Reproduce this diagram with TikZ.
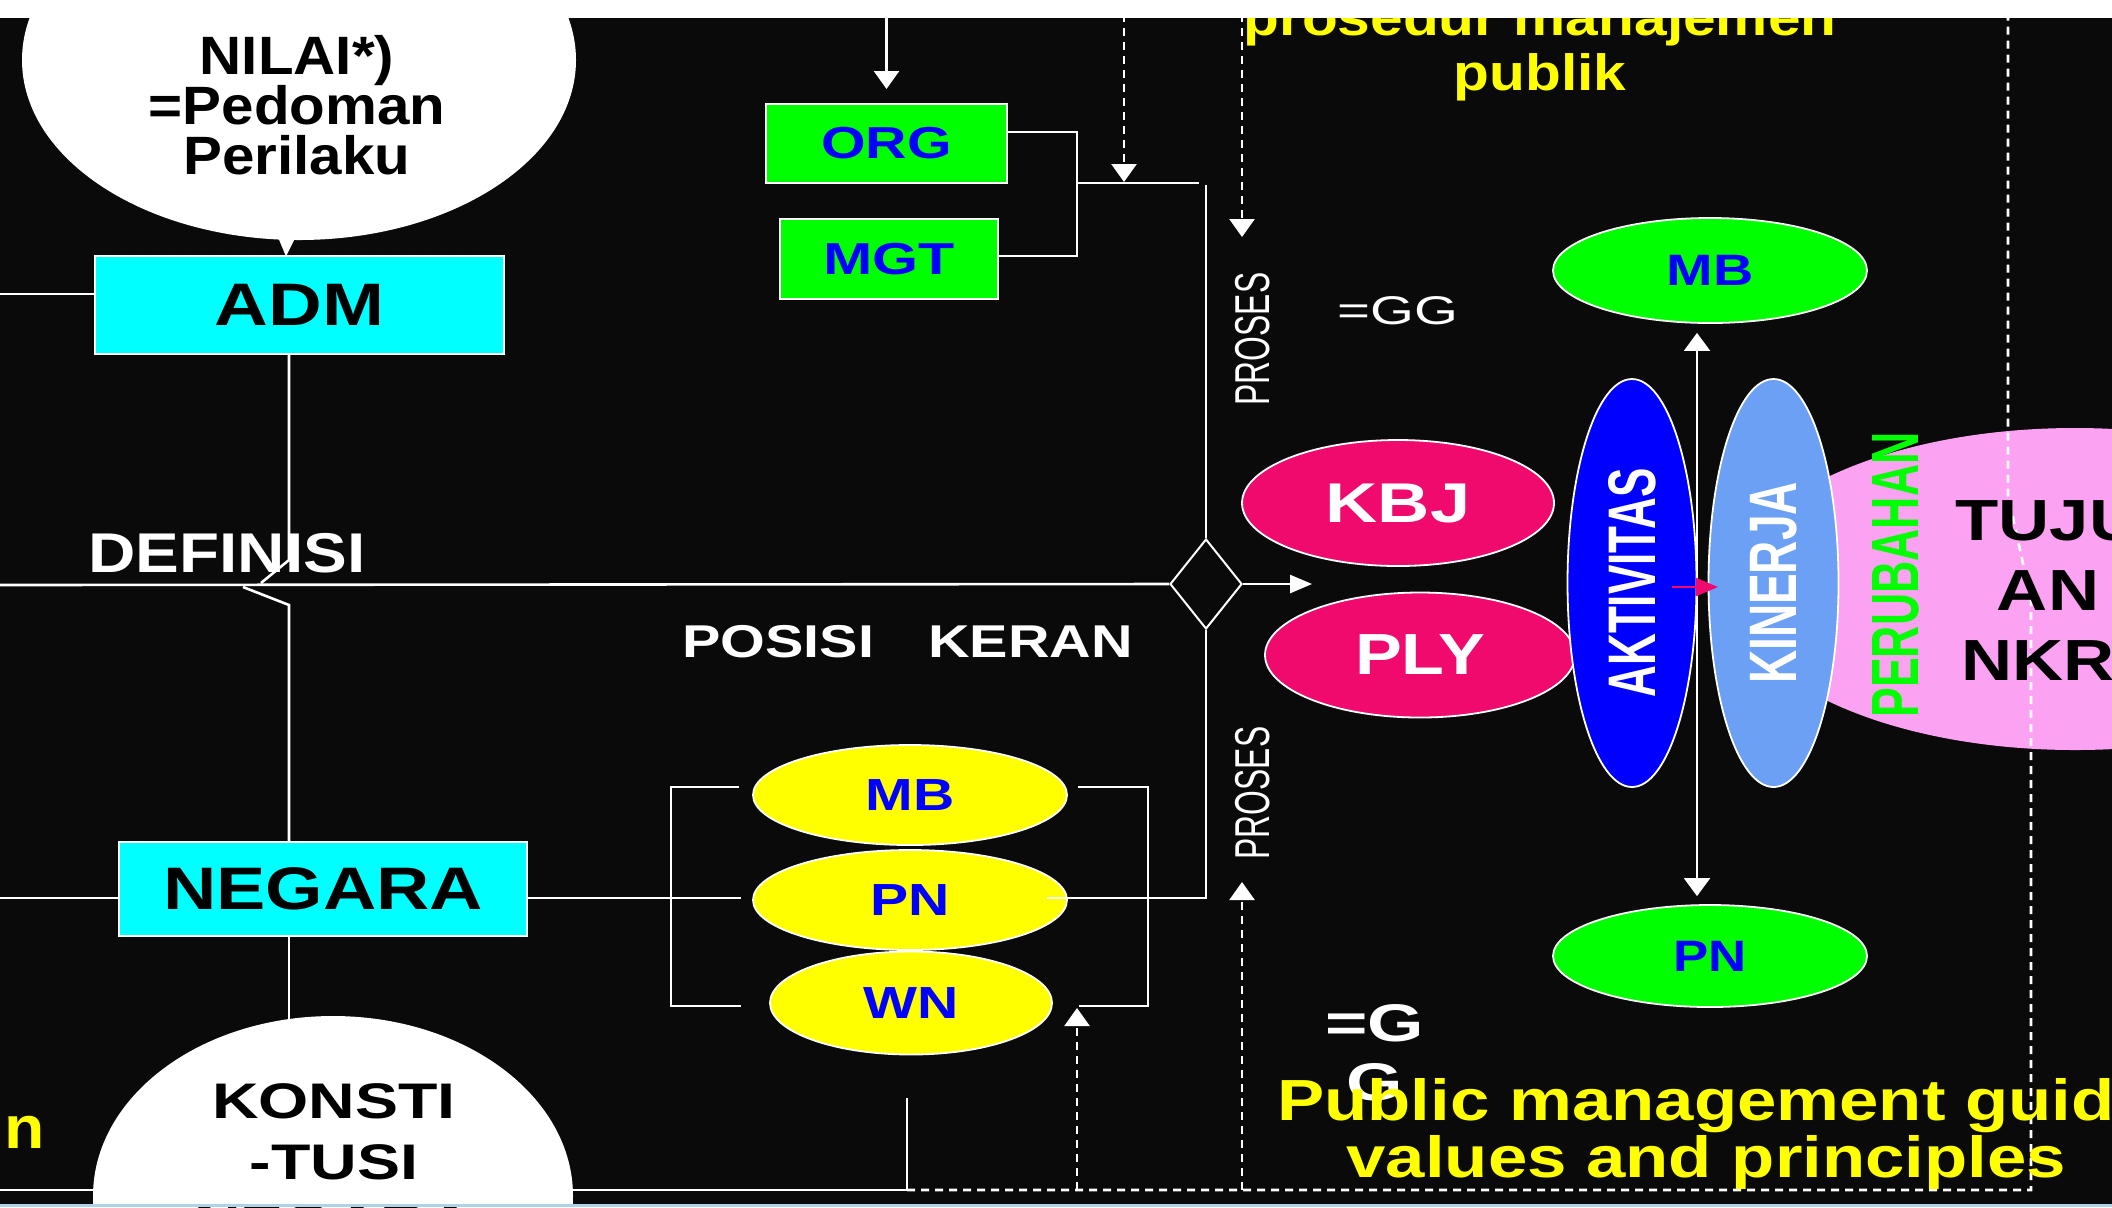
\documentclass[tikz,border=0pt]{standalone}
\usepackage{fontspec}
\setmainfont{Liberation Sans}
\usepackage{graphicx}
\usetikzlibrary{arrows.meta,shapes.geometric,calc}
\definecolor{bgc}{RGB}{10,10,10}
\definecolor{cyanc}{RGB}{0,255,255}
\definecolor{grn}{RGB}{0,255,0}
\definecolor{blu}{RGB}{0,0,255}
\definecolor{yel}{RGB}{255,255,0}
\definecolor{mag}{RGB}{240,10,110}
\definecolor{lblu}{RGB}{108,160,245}
\definecolor{pnk}{RGB}{252,162,242}
\definecolor{stripc}{RGB}{175,210,232}
\newcommand\fsz[2]{\fontsize{#1}{#2}\selectfont\lineskiplimit=-100pt\relax}
\tikzset{
  wl/.style={draw=white, line width=1.3pt},
  dl/.style={draw=white, line width=1.3pt, dash pattern=on 4pt off 3pt},
  tri/.style={-{Triangle[length=9pt,width=12.5pt]}},
  trih/.style={-{Triangle[length=11pt,width=9pt]}},
  boxnode/.style={draw=white, line width=1pt, inner sep=0pt},
  ellnode/.style={ellipse, draw=white, line width=0.9pt, inner sep=0pt},
  yellnode/.style={ellnode, fill=yel, text=blu, font=\fsz{22.5}{22.5}\bfseries},
  magnode/.style={ellnode, fill=mag, text=white},
  grnnode/.style={ellnode, fill=grn, text=blu, font=\fsz{22}{22}\bfseries},
  plain/.style={inner sep=0pt, text=white}
}
\begin{document}
\begin{tikzpicture}[x=0.5pt,y=-0.5pt]
\useasboundingbox (0,0) rectangle (2112,1207);
\clip (0,0) rectangle (2112,1207);
\fill[bgc] (0,0) rectangle (2112,1207);

% coordinates for free ends
\coordinate (L1) at (0,294);
\coordinate (L2) at (0,585);
\coordinate (L3) at (0,898);
\coordinate (Lbot) at (0,1190);
\coordinate (Bc) at (907,1190);
\coordinate (Bv) at (907,1098);
\coordinate (vx) at (289,0);
\coordinate (kt) at (289,1030);

% bottom solid line (behind bubble)
\draw[wl] (Lbot) -- (Bc) -- (Bv);

% NILAI bubble
\node[ellipse, fill=white, minimum width=277pt, minimum height=180pt, inner sep=0pt] (nilai) at (299,60) {};
\fill[white] ([xshift=-11.5pt,yshift=4pt]nilai.south) -- ([xshift=-6.5pt,yshift=-8pt]nilai.south) -- ([xshift=-0.5pt,yshift=4pt]nilai.south) -- cycle;
\node[inner sep=0pt, align=center, xscale=1.08, font=\fsz{27}{25}\bfseries] (nilaitxt) at (297,105) {NILAI*)\\=Pedoman\\Perilaku};

% ADM, NEGARA
\node[boxnode, fill=cyanc, minimum width=204.5pt, minimum height=49pt, font=\fsz{30}{30}\bfseries] (adm) at (299.5,305) {\scalebox{1.24}[1]{ADM}};
\node[boxnode, fill=cyanc, minimum width=204pt, minimum height=47pt, font=\fsz{30}{30}\bfseries] (neg) at (323,889) {\scalebox{1.23}[1]{NEGARA}};
\node[plain, font=\fsz{28}{28}\bfseries] (def) at (227,553) {\scalebox{1.17}[1]{DEFINISI}};

\draw[wl] (L1) -- ([yshift=5.5pt]adm.west);
\draw[wl] (adm.south -| vx) -- (289,560) -- (261,583);
\draw[wl] (243,587) -- (289,605) -- (neg.north -| vx);
\draw[wl] (neg.south -| vx) -- (kt);
\draw[wl] (L3) -- ([yshift=-4.5pt]neg.west);

% KONSTI bubble
\node[ellipse, fill=white, minimum width=240pt, minimum height=180pt, inner sep=0pt] (konsti) at (333,1196) {};
\node[inner sep=0pt, align=center, xscale=1.29, font=\fsz{25}{30.5}\bfseries] (konstitxt) at (334,1162) {KONSTI\\-TUSI\\NEGARA};

% yellow n
\node[inner sep=0pt, anchor=base east, text=yel, font=\fsz{30}{30}\bfseries] (nn) at (45,1148) {\scalebox{1.1}[1]{n}};

% ORG / MGT
\node[boxnode, fill=grn, text=blu, minimum width=120.5pt, minimum height=39.5pt, font=\fsz{22.4}{22.4}\bfseries] (org) at (886.5,143.5) {\scalebox{1.28}[1]{ORG}};
\node[boxnode, fill=grn, text=blu, minimum width=109pt, minimum height=40pt, font=\fsz{22.4}{22.4}\bfseries] (mgt) at (889,259) {\scalebox{1.32}[1]{MGT}};

% yellow ellipses
\node[yellnode, minimum width=157pt, minimum height=50pt] (mby) at (910,795) {\scalebox{1.27}[1]{MB}};
\node[yellnode, minimum width=157pt, minimum height=50pt] (pny) at (910,900) {\scalebox{1.27}[1]{PN}};
\node[yellnode, minimum width=141pt, minimum height=51.5pt] (wny) at (911,1003) {\scalebox{1.27}[1]{WN}};

\node[plain, font=\fsz{23}{23}\bfseries] (pos) at (907.5,641.5) {\scalebox{1.25}[1]{POSISI\hspace{21.6pt}KERAN}};

% diamond
\node[diamond, draw=white, line width=1pt, minimum width=36pt, minimum height=45pt, inner sep=0pt] (dia) at (1206,584) {};

% pink / magenta / blue shapes
\node[magnode, minimum width=156pt, minimum height=63pt, font=\fsz{28}{28}\bfseries] (kbj) at (1398,503) {\scalebox{1.29}[1]{KBJ}};
\node[magnode, minimum width=155pt, minimum height=62.5pt, font=\fsz{29}{29}\bfseries] (ply) at (1420,655) {\scalebox{1.21}[1]{PLY}};
\node[ellipse, fill=pnk, minimum width=344pt, minimum height=161pt, inner sep=0pt] (tuj) at (2075,589) {};
\node[ellnode, fill=blu, text=white, rotate=90, minimum width=204pt, minimum height=64.5pt, font=\fsz{22}{22}\bfseries] (akt) at (1632,583) {\scalebox{1}[1.53]{AKTIVITAS}};
\node[ellnode, fill=lblu, text=white, rotate=90, minimum width=204pt, minimum height=65pt, font=\fsz{23}{23}\bfseries] (kin) at (1773.5,583) {\scalebox{1}[1.46]{KINERJA}};
\node[grnnode, minimum width=157pt, minimum height=52.5pt] (gmb) at (1710,270.5) {\scalebox{1.27}[1]{MB}};
\node[grnnode, minimum width=157pt, minimum height=51pt] (gpn) at (1710,956) {\scalebox{1.2}[1]{PN}};

% right dashed line
\coordinate (Rc) at (2031,1190);
\coordinate (Rm) at (2031,600);
\coordinate (Rt) at (2008,495);
\coordinate (Rtop) at (2008,0);
\draw[dl] (Bc) -- (Rc) -- (Rm) -- (Rt) -- (Rtop);

\node[rotate=90, inner sep=0pt, text=grn, font=\fsz{22.3}{22.3}\bfseries] (per) at (1896,575) {\scalebox{1}[1.5]{PERUBAHAN}};
\node[inner sep=0pt, align=center, xscale=1.22, font=\fsz{29}{35}\bfseries] (tujtxt) at (2048,591) {TUJU\\AN\\NKRI};

% PROSES labels and =GG
\node[plain, rotate=90, font=\fsz{15.9}{16}] (pr1) at (1253,339) {\scalebox{1}[1.54]{PROSES}};
\node[plain, rotate=90, font=\fsz{15.9}{16}] (pr2) at (1253,793) {\scalebox{1}[1.54]{PROSES}};
\node[plain, font=\fsz{20}{20}] (gg) at (1397.5,311) {\scalebox{1.41}[1]{=GG}};
\node[plain, align=center, xscale=1.37, font=\fsz{26.5}{29.5}\bfseries] (g2) at (1375,1053) {=G\\G};

% yellow texts
\node[inner sep=0pt, align=center, text=yel, xscale=1.22, font=\fsz{29}{28.5}\bfseries] (pub) at (1749,1134) {Public management guiding\\values and principles\hspace*{35pt}};
\node[inner sep=0pt, align=center, text=yel, xscale=1.15, font=\fsz{25.5}{27.5}\bfseries] (pros) at (1540,49.5) {prosedur manajemen\\publik};

% connectors
\coordinate (t0) at (886.5,0);
\coordinate (t1) at (1124,0);
\coordinate (t1e) at (1124,182);
\coordinate (t2) at (1242,0);
\coordinate (t2e) at (1242,237);
\draw[wl,tri] (t0) -- ([yshift=7pt]org.north);
\draw[dl,tri] (t1) -- (t1e);
\draw[dl,tri] (t2) -- (t2e);

\coordinate (ob1) at (1077,132);
\coordinate (ob2) at (1077,256);
\coordinate (oj) at (1077,183);
\coordinate (oje) at (1199,183);
\coordinate (vt) at (1206,185);
\draw[wl] ([yshift=5.75pt]org.east) -- (ob1) -- (ob2) -- ([yshift=1.5pt]mgt.east);
\draw[wl] (oj) -- (oje);
\draw[wl] (vt) -- (dia.north);
\draw[wl] (L2) -- (dia.west);
\draw[wl] (dia.south) |- ([xshift=-10.5pt,yshift=1pt]pny.east);
\coordinate (dae) at (1312,584);
\draw[wl,trih] (dia.east) -- (dae);

\draw[wl] ([yshift=-4.5pt]neg.east) -- ([xshift=-5.5pt,yshift=1pt]pny.west);
\coordinate (lb1) at (671,787);
\coordinate (lb2) at (671,1006);
\draw[wl] ([xshift=-6.5pt,yshift=4pt]mby.west) -- (lb1) -- (lb2) -- ([xshift=-14pt,yshift=-1.5pt]wny.west);
\coordinate (rb1) at (1148,787);
\coordinate (rb2) at (1148,1006);
\coordinate (rb3) at (1079,1006);
\draw[wl] ([xshift=5pt,yshift=4pt]mby.east) -- (rb1) -- (rb2) -- (rb3);

\coordinate (d1b) at (1077,1190);
\coordinate (d1t) at (1077,1008);
\coordinate (d2b) at (1242,1190);
\coordinate (d2t) at (1242,882);
\draw[dl,tri] (d1b) -- (d1t);
\draw[dl,tri] (d2b) -- (d2t);

\draw[draw=white, line width=1pt, {Triangle[length=9pt,width=13pt]}-{Triangle[length=9pt,width=13pt]}] ([xshift=-6.5pt,yshift=-4.5pt]gmb.south) -- ([xshift=-6.5pt,yshift=4pt]gpn.north);
\draw[draw=mag, line width=1pt, -{Triangle[length=11pt,width=9pt]}] ([xshift=20pt,yshift=-2pt]akt.center) -- ([xshift=-27.75pt,yshift=-2pt]kin.center);

% frame strips
\fill[white] (0,0) rectangle (2112,18);
\fill[stripc] (0,1204) rectangle (2112,1207);
\end{tikzpicture}
\end{document}
